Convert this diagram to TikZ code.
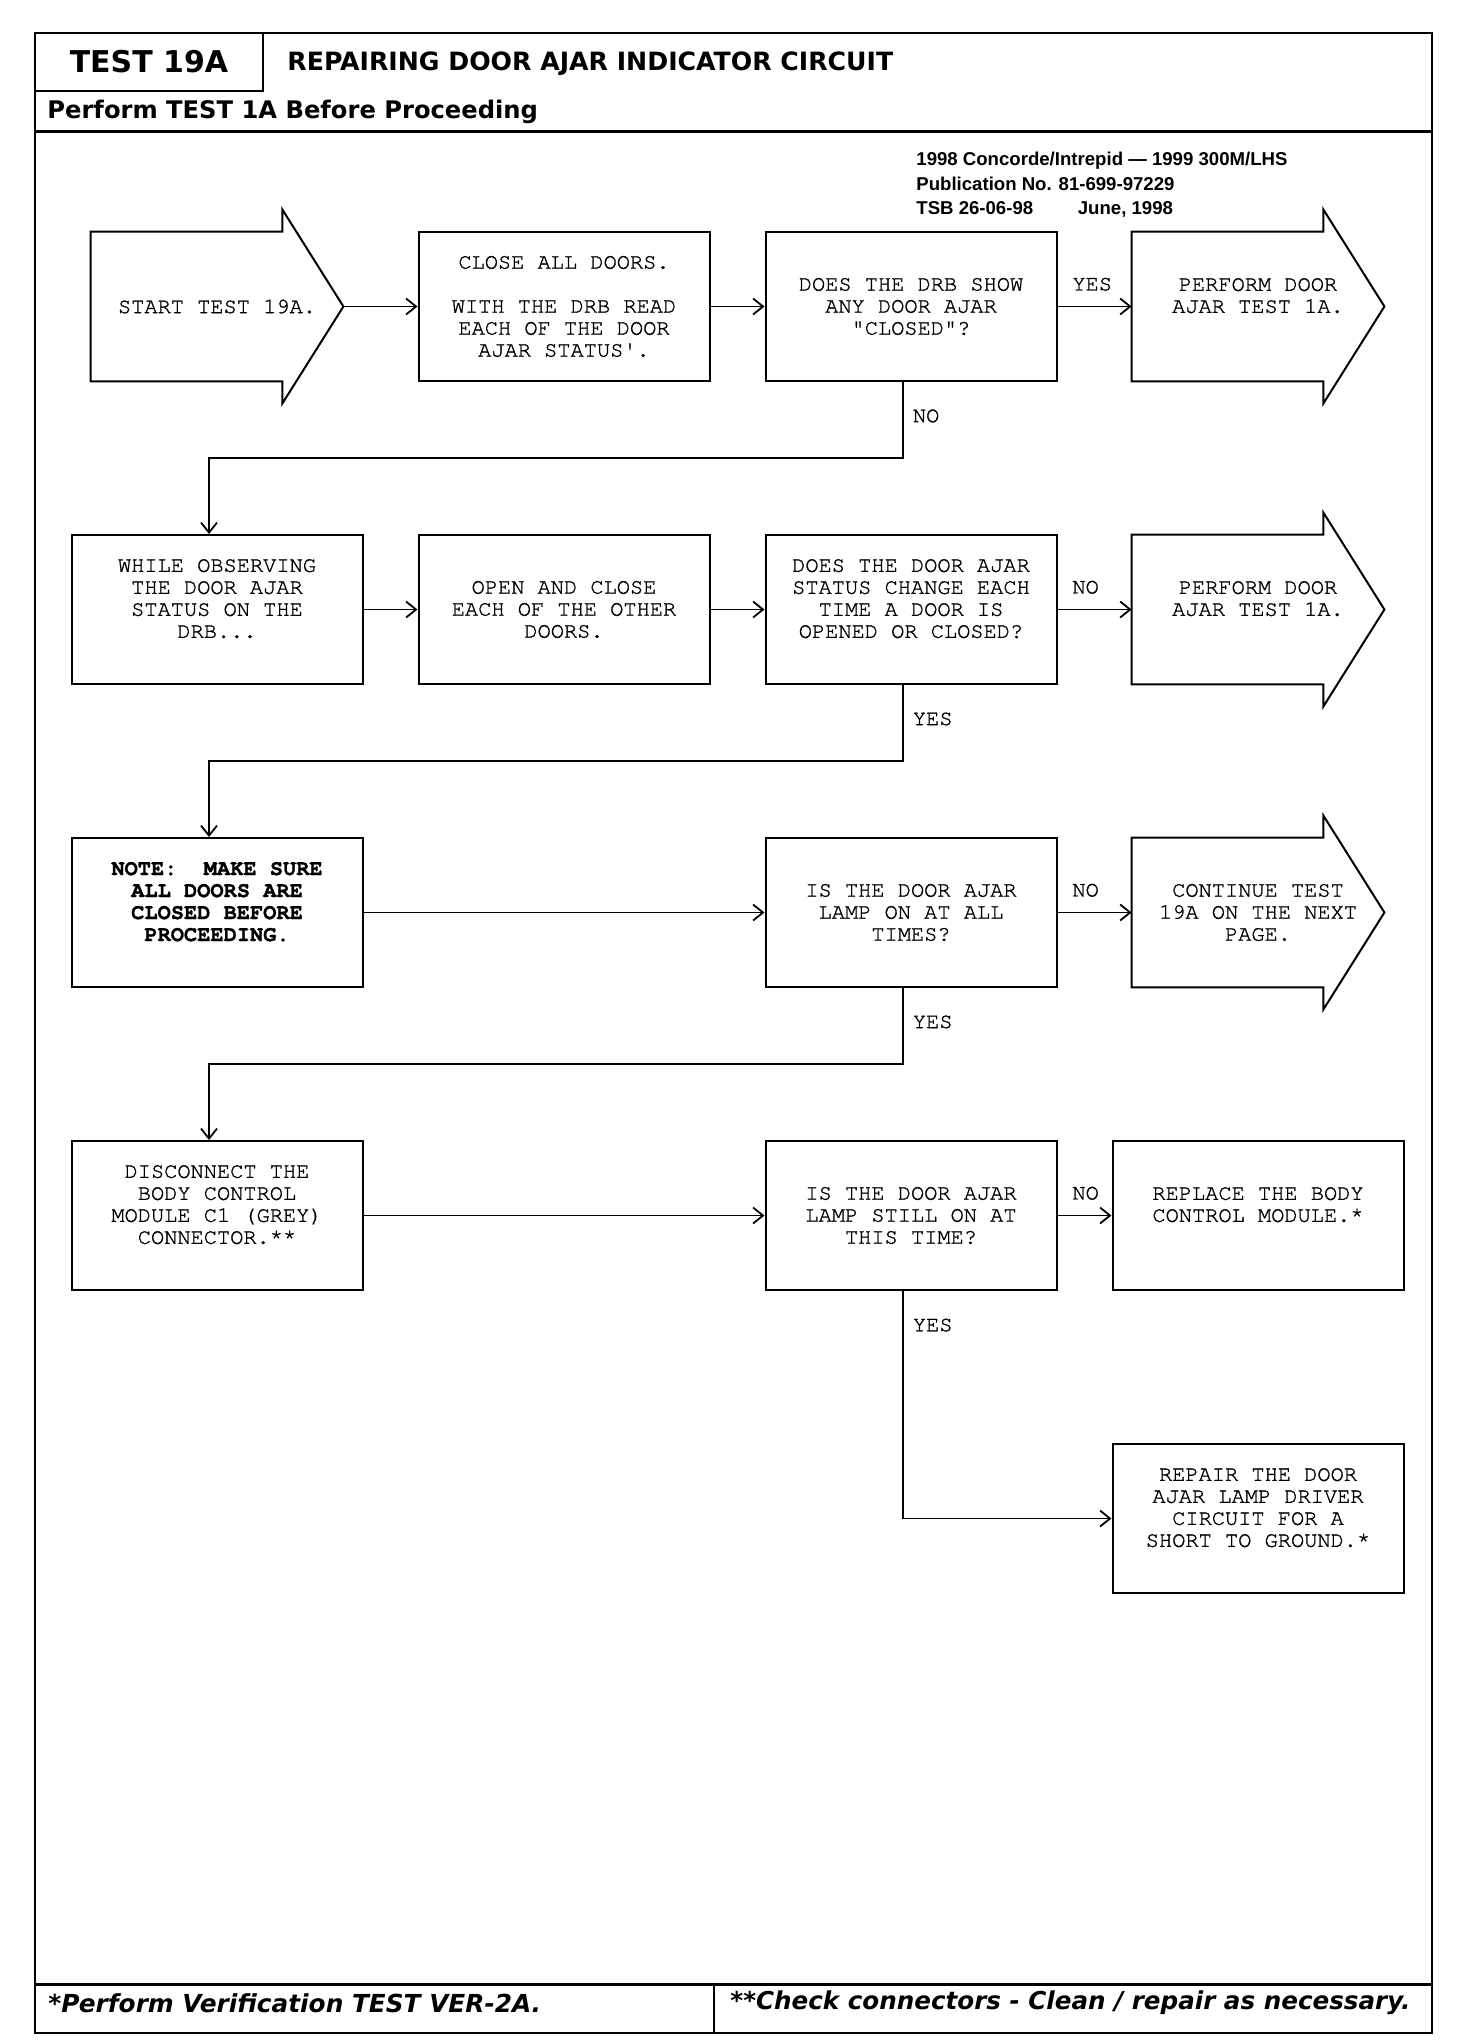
\documentclass[tikz,border=0pt]{standalone}
\usepackage{fontspec}
\usetikzlibrary{arrows.meta,positioning}
\newfontfamily\monofont{texgyrecursor-regular.otf}[BoldFont=texgyrecursor-bold.otf,FakeBold=1.2]
\newfontfamily\headfont{DejaVu Sans}
\newfontfamily\infofont{Liberation Sans}
\newcommand{\boxfont}{\monofont\fontsize{11}{11}\selectfont}
\tikzstyle{block} = [align=center,draw=black,rectangle,line width=1pt,minimum width=145.5pt,minimum height=74.5pt,inner sep=0pt,font=\boxfont]
\tikzstyle{arrowbox} = [align=center,rectangle,minimum width=126pt,minimum height=74.5pt,inner sep=0pt,font=\boxfont]
\tikzstyle{outline} = [line width=1pt,line join=miter]
\tikzstyle{link} = [->,line width=0.9pt]
\tikzstyle{hlabel} = [anchor=south west,inner sep=0pt,xshift=7pt,yshift=7.4pt,font=\boxfont]
\tikzstyle{vlabel} = [anchor=west,inner sep=0pt,xshift=4.5pt,font=\boxfont]
\begin{document}
\begin{tikzpicture}[x=0.5pt,y=-0.5pt,node distance=151.5pt and 173.5pt,on grid,>={Straight Barb[length=5pt,width=8pt]}]
				\useasboundingbox (0,0) rectangle (1456,2044);
				% frame, header and footer
				\draw[line width=1.4pt] (35,33) rectangle (1432,2033);
				\draw[line width=1.2pt] (263,33) -- (263,91) -- (35,91);
				\draw[line width=1.5pt] (35,132) -- (1432,132);
				\draw[line width=1.5pt] (35,1984) -- (1432,1984);
				\draw[line width=1.2pt] (714,1984) -- (714,2033);
				\node (test) at (149,62) [font=\headfont\bfseries\fontsize{15}{18}\selectfont] {TEST 19A};
				\node (title) at (287,64) [anchor=west,inner sep=0pt,font=\headfont\bfseries\fontsize{12.6}{15}\selectfont] {REPAIRING DOOR AJAR INDICATOR CIRCUIT};
				\node (before) at (47,112) [anchor=west,inner sep=0pt,font=\headfont\bfseries\fontsize{12.1}{15}\selectfont] {Perform TEST 1A Before Proceeding};
				\node (info) at (916,152) [anchor=north west,align=left,inner sep=0pt,font=\infofont\bfseries\fontsize{9.3}{12.25}\selectfont] {1998 Concorde/Intrepid — 1999 300M/LHS\\Publication No. 81-699-97229\\TSB 26-06-98\hspace{2.4em}June, 1998};
				\node (verify) at (48,2003) [anchor=west,inner sep=0pt,font=\headfont\bfseries\itshape\fontsize{12.4}{15}\selectfont] {*Perform Verification TEST VER-2A.};
				\node (check) at (730,2003) [anchor=west,inner sep=0pt,font=\headfont\bfseries\itshape\fontsize{12.3}{15}\selectfont] {**Check connectors - Clean / repair as necessary.};
				% steps
				\node (start) [arrowbox] at (217,306.5) {START TEST 19A.};
				\node (close) [block,right=of start] {CLOSE ALL DOORS.\\[11pt]WITH THE DRB READ\\EACH OF THE DOOR\\AJAR STATUS'.};
				\node (drbshow) [block,right=of close] {DOES THE DRB SHOW\\ANY DOOR AJAR\\"CLOSED"?};
				\node (ajar1) [arrowbox,right=of drbshow] {PERFORM DOOR\\AJAR TEST 1A.\\\mbox{}};
				\node (observe) [block,below=of start] {WHILE OBSERVING\\THE DOOR AJAR\\STATUS ON THE\\DRB...\\\mbox{}};
				\node (openclose) [block,right=of observe] {OPEN AND CLOSE\\EACH OF THE OTHER\\DOORS.};
				\node (change) [block,right=of openclose] {DOES THE DOOR AJAR\\STATUS CHANGE EACH\\TIME A DOOR IS\\OPENED OR CLOSED?\\\mbox{}};
				\node (ajar2) [arrowbox,right=of change] {PERFORM DOOR\\AJAR TEST 1A.\\\mbox{}};
				\node (note) [block,below=of observe,font=\boxfont\bfseries] {NOTE:\ \ MAKE SURE\\ALL DOORS ARE\\CLOSED BEFORE\\PROCEEDING.\\\mbox{}};
				\node (lampon) [block,below=of change] {IS THE DOOR AJAR\\LAMP ON AT ALL\\TIMES?};
				\node (cont) [arrowbox,right=of lampon] {CONTINUE TEST\\19A ON THE NEXT\\PAGE.};
				\node (disconnect) [block,below=of note] {DISCONNECT THE\\BODY CONTROL\\MODULE C1 (GREY)\\CONNECTOR.**\\\mbox{}};
				\node (still) [block,below=of lampon] {IS THE DOOR AJAR\\LAMP STILL ON AT\\THIS TIME?};
				\node (replace) [block,right=of still] {REPLACE THE BODY\\CONTROL MODULE.*\\\mbox{}};
				\node (repair) [block,below=of replace] {REPAIR THE DOOR\\AJAR LAMP DRIVER\\CIRCUIT FOR A\\SHORT TO GROUND.*\\\mbox{}};
				\foreach \n in {start,ajar1,ajar2,cont}
					\draw[outline] (\n.north west) -- ([xshift=-30.5pt]\n.north east) -- ++(0,11pt) -- (\n.east) -- ([xshift=-30.5pt,yshift=-11pt]\n.south east) -- ([xshift=-30.5pt]\n.south east) -- (\n.south west) -- cycle;
				% connectors
				\draw[link] (start) -- (close);
				\draw[link] (close) -- (drbshow);
				\draw[link] (drbshow) -- node[hlabel,pos=0] {YES} (ajar1);
				\draw[link] ([xshift=-4pt]drbshow.south) -- node[vlabel,pos=0.447] {NO} ++(0,-38pt) -| ([xshift=-4pt]observe.north);
				\draw[link] (observe) -- (openclose);
				\draw[link] (openclose) -- (change);
				\draw[link] (change) -- node[hlabel,pos=0] {NO} (ajar2);
				\draw[link] ([xshift=-4pt]change.south) -- node[vlabel,pos=0.447] {YES} ++(0,-38pt) -| ([xshift=-4pt]note.north);
				\draw[link] (note) -- (lampon);
				\draw[link] (lampon) -- node[hlabel,pos=0] {NO} (cont);
				\draw[link] ([xshift=-4pt]lampon.south) -- node[vlabel,pos=0.447] {YES} ++(0,-38pt) -| ([xshift=-4pt]disconnect.north);
				\draw[link] (disconnect) -- (still);
				\draw[link] (still) -- node[hlabel,pos=0] {NO} (replace);
				\draw[link] ([xshift=-4pt]still.south) |- node[vlabel,pos=0.075] {YES} (repair.west);
			\end{tikzpicture}
\end{document}
